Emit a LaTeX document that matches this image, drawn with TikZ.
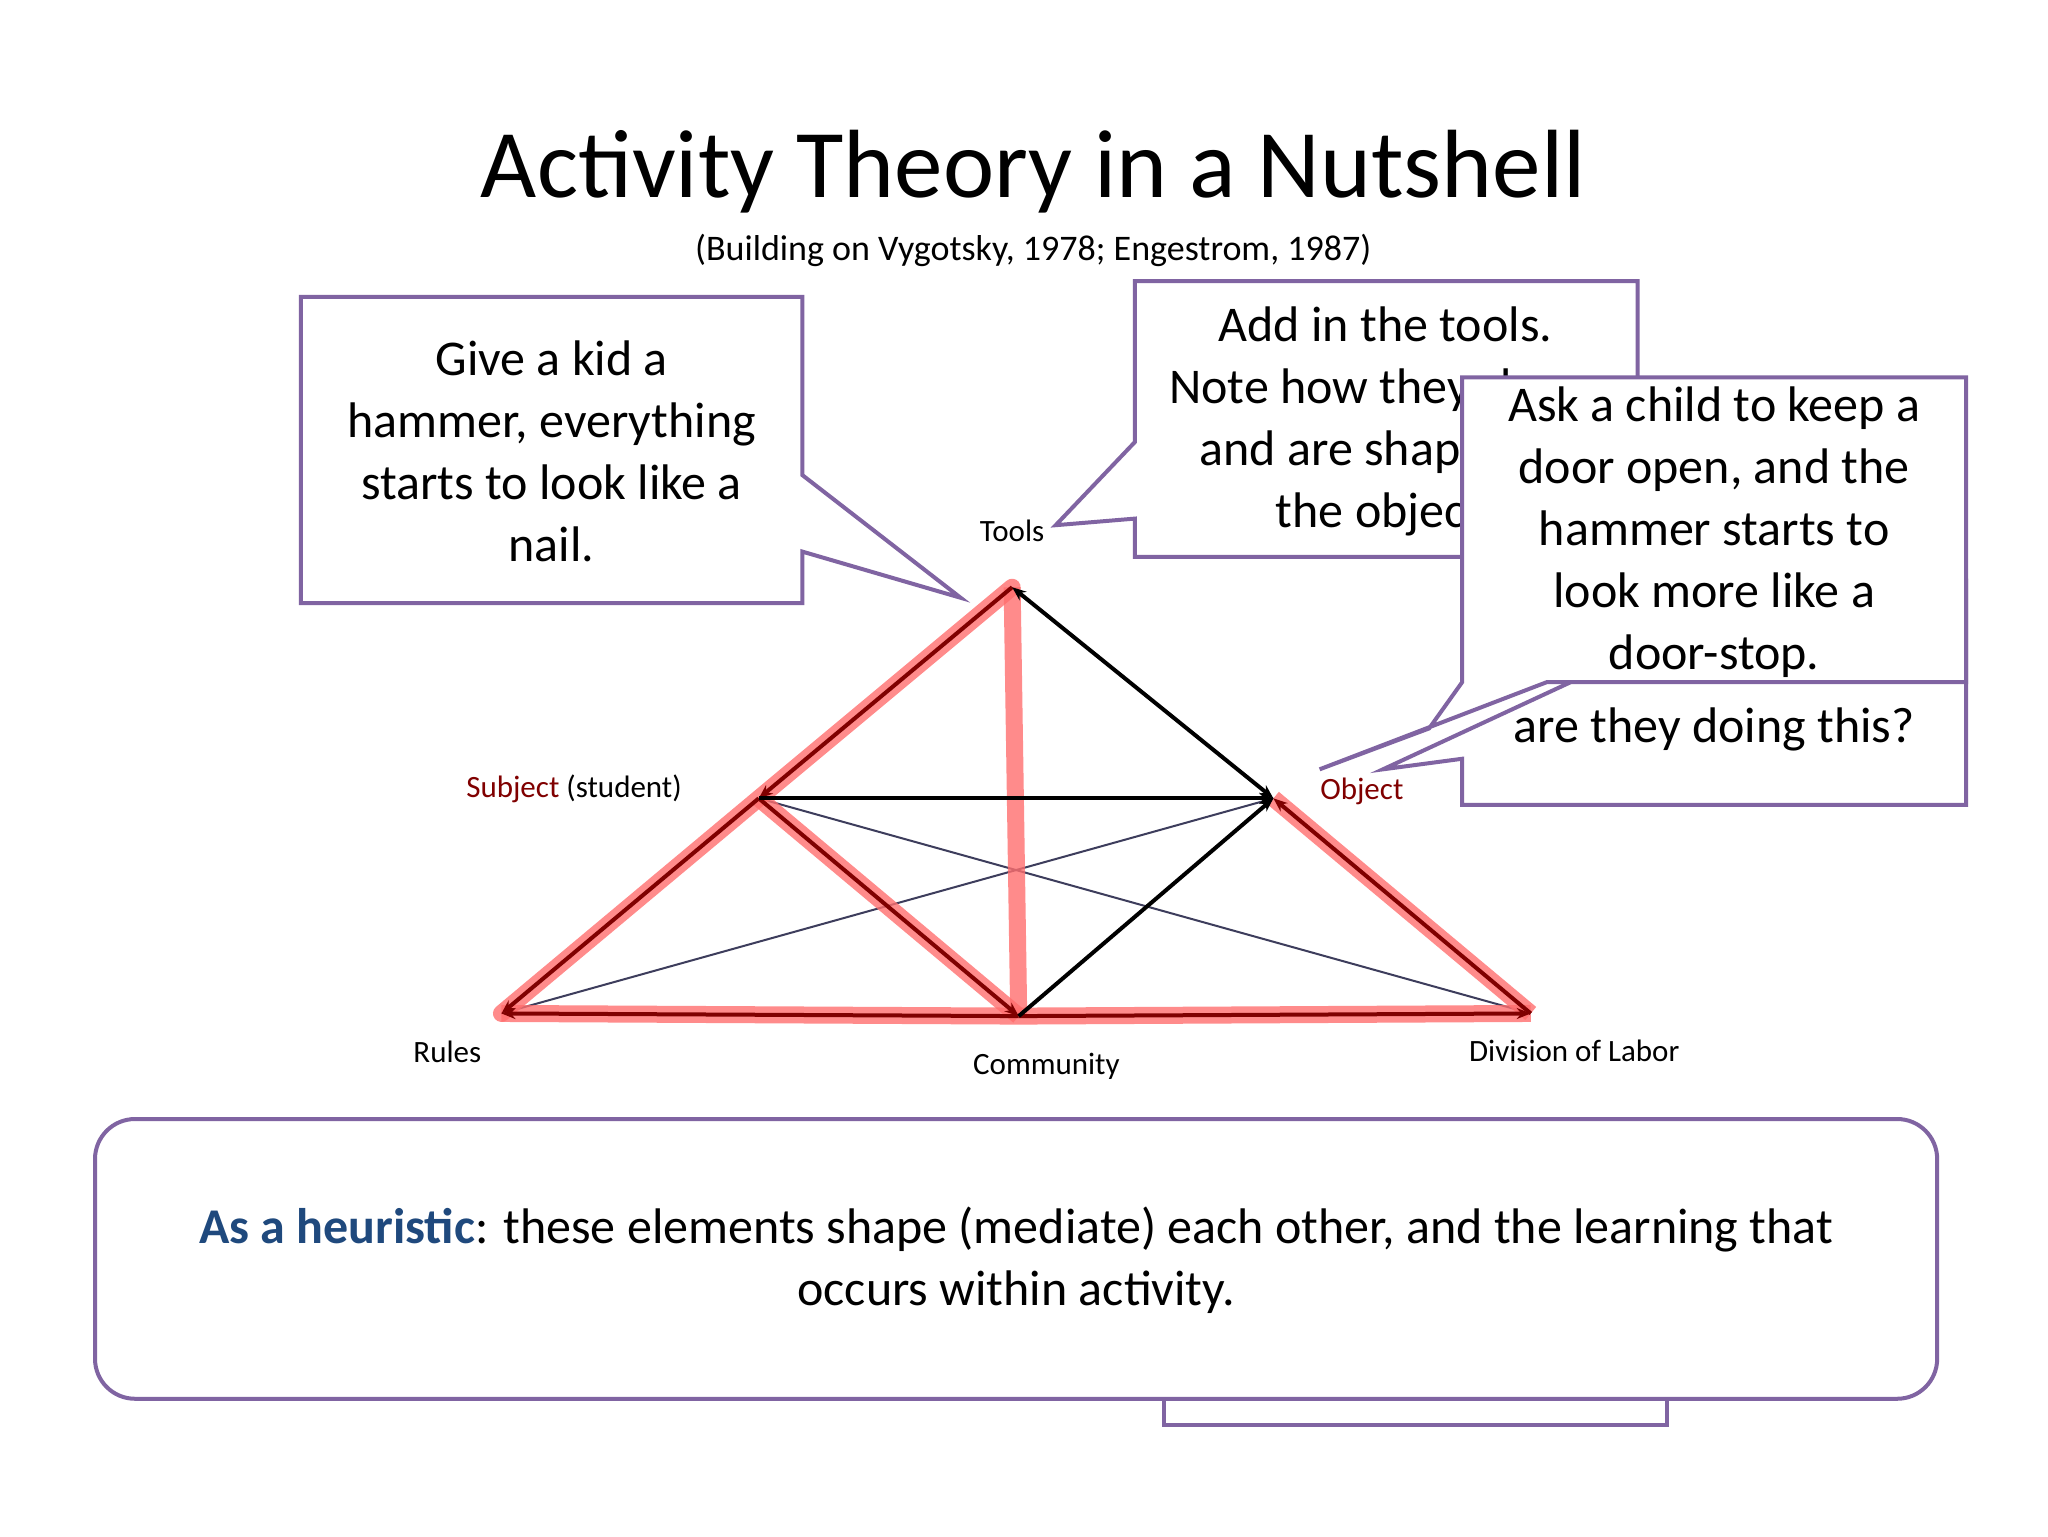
\documentclass[tikz,border=0pt]{standalone}
\usepackage{fontspec}
\setmainfont{Carlito}
\usetikzlibrary{arrows.meta}
\definecolor{purp}{RGB}{128,100,162}
\definecolor{dred}{RGB}{128,0,0}
\definecolor{hblue}{RGB}{31,73,125}
\definecolor{hred}{RGB}{255,110,110}
\tikzset{
 callout/.style={draw=purp,line width=4pt,fill=white,line join=miter},
 boxtext/.style={align=center,font=\fontsize{50}{62}\selectfont,inner sep=0},
 lab/.style={font=\fontsize{31}{36}\selectfont,inner sep=0},
 hl/.style={hred,line width=17pt,opacity=0.8},
 dr/.style={dred,line width=4pt,-{Stealth[length=14pt,width=11pt]}},
 bk/.style={black,line width=4pt,-{Stealth[length=14pt,width=11pt]}},
 gr/.style={gray!80!blue!60!black,line width=2pt},
}
\begin{document}
\begin{tikzpicture}[x=1.3196pt,y=-1.3196pt]
\useasboundingbox[fill=white] (0,0) rectangle (1552,1164);
% title
\node[font=\fontsize{97}{110}\selectfont,inner sep=0] (title) at (783,130) {Activity Theory in a Nutshell};
\node[font=\fontsize{36}{40}\selectfont,inner sep=0] (sub) at (783,190) {(Building on Vygotsky, 1978; Engestrom, 1987)};
% diagram nodes
\coordinate (T) at (767,445);
\coordinate (S) at (575,605);
\coordinate (O) at (965,605);
\coordinate (R) at (380,768);
\coordinate (C) at (772,770);
\coordinate (D) at (1160,768);
% thin gray
\draw[gr] (S) -- (D);
\draw[gr] (R) -- (O);
% red highlights
\draw[hl,line cap=round] (T) -- (S) -- (R);
\draw[hl] (S) -- (C);
\draw[hl] (T) -- (C);
\draw[hl] (R) -- (C) -- (D);
\draw[hl] (O) -- (D);
% dark red arrows
\draw[dr] (T) -- (S);
\draw[dr] (S) -- (R);
\draw[dr] (S) -- (C);
\draw[dr] (C) -- (R);
\draw[dr] (C) -- (D);
\draw[dr] (D) -- (O);
% black arrows
\draw[bk,{Stealth[length=14pt,width=11pt]}-{Stealth[length=14pt,width=11pt]}] (T) -- (O);
\draw[bk] (S) -- (O);
\draw[bk] (C) -- (O);
% labels
\node[lab] (lT) at (767,402) {Tools};
\node[lab] (lS) at (435,598) {\textcolor{dred}{Subject} (student)};
\node[lab,text=dred] (lO) at (1032,600) {Object};
\node[lab] (lR) at (339,797) {Rules};
\node[lab] (lC) at (793,808) {Community};
\node[lab] (lD) at (1193,796) {Division of Labor};
% callout 1
\draw[callout] (228,225) -- (608,225) -- (608,360) -- (728,453) -- (608,418) -- (608,457) -- (228,457) -- cycle;
\node[boxtext] (t1) at (418,342) {Give a kid a\\hammer, everything\\starts to look like a\\nail.};
% callout 2
\draw[callout] (860,213) -- (1241,213) -- (1241,422) -- (860,422) -- (860,393) -- (800,398) -- (860,335) -- cycle;
\node[boxtext] (t2) at (1050,319) {Add in the tools.\\Note how they shape\\and are shaped by\\the object.};
% callout 4 (behind)
\draw[callout] (1356,440) -- (1490,440) -- (1490,610) -- (1108,610) -- (1108,575) -- (1048,583) -- cycle;
\node[boxtext] (t4) at (1299,553) {are they doing this?};
% callout 3
\draw[callout] (1108,286) -- (1490,286) -- (1490,517) -- (1172,517) -- (1000,583) -- (1083,552) -- (1108,517) -- cycle;
\node[boxtext] (t3) at (1299,403) {Ask a child to keep a\\door open, and the\\hammer starts to\\look more like a\\door-stop.};
% box 5 behind
\draw[callout] (882,900) rectangle (1263,1080);
\node[boxtext] (t5) at (1030,1040) {g};
% heuristic box
\draw[callout,rounded corners=40] (72,848) rectangle (1468,1060);
\node[boxtext] (h) at (770,955) {\textcolor{hblue}{\textbf{As a heuristic}}: these elements shape (mediate) each other, and the learning that\\occurs within activity.};
\end{tikzpicture}
\end{document}
